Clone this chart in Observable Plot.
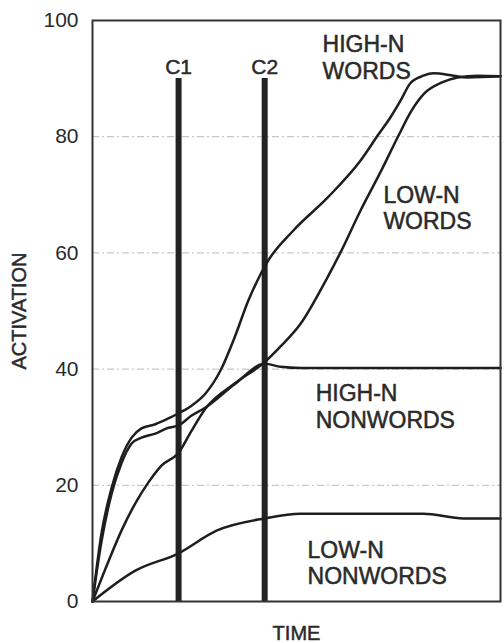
<!DOCTYPE html>
<html><head><meta charset="utf-8">
<script src="https://cdn.jsdelivr.net/npm/d3@7"></script>
<script src="https://cdn.jsdelivr.net/npm/@observablehq/plot@0.6"></script>
<style>body{margin:0;background:#fff;}</style>
</head><body><div id="chart"></div>
<script>
// ---- data ----
const yTicks = [0, 20, 40, 60, 80, 100];
const gridValues = [20, 40, 60, 80];
const cueNames = ["C1", "C2"];
const cueTimes = [21.1, 42.2];
const cueTop = [90, 90];

const hnWordsTime = [0, 2.2, 4.7, 7.1, 9.6, 12.0, 15.4, 18.6, 21.1, 24.3, 27.7, 31.4, 34.8, 38.2, 42.9, 49.3, 57.6, 65.7, 69.9, 73.0, 75.5, 77.9, 81.1, 83.6, 88.5, 91.9, 100];
const hnWordsAct  = [0, 11.7, 19.6, 24.8, 28.2, 29.8, 30.5, 31.5, 32.4, 33.7, 35.8, 39.8, 45.4, 51.8, 58.5, 63.9, 69.5, 75.9, 80.2, 83.3, 86.2, 89.2, 90.5, 90.9, 90.5, 90.2, 90.4];

const lnWordsTime = [0, 3.9, 7.1, 10.5, 13.7, 16.9, 21.1, 24.3, 27.7, 35.0, 42.2, 46.1, 51.0, 57.6, 60.8, 65.7, 70.8, 74.8, 78.2, 81.4, 85.5, 89.5, 94.4, 100];
const lnWordsAct  = [0, 6.9, 12.2, 16.9, 20.5, 23.4, 25.6, 29.4, 33.2, 37.6, 41.2, 43.9, 47.8, 55.8, 60.1, 67.3, 74.2, 79.9, 84.5, 87.5, 89.3, 90.2, 90.5, 90.4];

const hnNonwordsTime = [0, 2.2, 4.7, 7.1, 9.6, 12.0, 15.4, 18.6, 21.1, 24.3, 27.7, 35.0, 42.2, 46.1, 51.0, 100];
const hnNonwordsAct  = [0, 10.3, 18.6, 23.8, 27.2, 28.2, 28.9, 29.9, 30.3, 32.0, 33.4, 37.5, 40.9, 40.4, 40.2, 40.2];

const lnNonwordsTime = [0, 10.5, 21.1, 30.4, 42.2, 51.0, 81.1, 90.9, 100];
const lnNonwordsAct  = [0, 5.3, 8.3, 12.2, 14.3, 15.1, 15.1, 14.3, 14.3];

const seriesLabels = ["HIGH-N\nWORDS", "LOW-N\nWORDS", "HIGH-N\nNONWORDS", "LOW-N\nNONWORDS"];
const labelTime = [56.4, 71.3, 54.7, 52.7];
const labelAct  = [97.8, 71.9, 37.7, 10.8];

// ---- build tables ----
function rows(name, t, a) { return t.map((v, i) => ({series: name, t: v, a: a[i]})); }
const lineData = [
  ...rows("HIGH-N WORDS", hnWordsTime, hnWordsAct),
  ...rows("LOW-N WORDS", lnWordsTime, lnWordsAct),
  ...rows("HIGH-N NONWORDS", hnNonwordsTime, hnNonwordsAct),
  ...rows("LOW-N NONWORDS", lnNonwordsTime, lnNonwordsAct)
];
const cues = cueNames.map((n, i) => ({name: n, t: cueTimes[i], top: cueTop[i]}));
const labels = seriesLabels.map((s, i) => ({text: s, t: labelTime[i], a: labelAct[i]}));

const ink = "#2a2a2a";
const font = "'Liberation Sans', Arial, Helvetica, sans-serif";
const heavy = {fill: ink, stroke: ink, strokeWidth: 0.5};

const chart = Plot.plot({
  width: 504,
  height: 643,
  marginTop: 20,
  marginBottom: 42,
  marginLeft: 92,
  marginRight: 4,
  style: {fontFamily: font, color: ink, background: "#fff"},
  x: {domain: [0, 100], axis: null},
  y: {domain: [0, 100], axis: null},
  marks: [
    Plot.ruleY(gridValues, {stroke: "#bbb", strokeWidth: 1, strokeDasharray: "7,3,2,3"}),
    Plot.axisY({ticks: yTicks, tickSize: 0, tickPadding: 14, fontSize: 21, label: null, ...heavy}),
    Plot.ruleX(cues, {x: "t", y1: 0, y2: "top", stroke: "#222", strokeWidth: 6}),
    Plot.text(cues, {x: "t", y: "top", text: "name", dy: -11, fontSize: 21, ...heavy}),
    Plot.line(lineData, {x: "t", y: "a", z: "series", stroke: "#1e1e1e", strokeWidth: 2.5, curve: "monotone-x"}),
    Plot.text(labels, {x: "t", y: "a", text: "text", textAnchor: "start", lineAnchor: "top", lineHeight: 1.15, fontSize: 23, ...heavy}),
    Plot.frame({stroke: "#333", strokeWidth: 2}),
    Plot.text(["ACTIVATION"], {frameAnchor: "left", textAnchor: "middle", lineAnchor: "middle", rotate: -90, dx: -73, fontSize: 20, ...heavy}),
    Plot.text(["TIME"], {frameAnchor: "bottom", textAnchor: "middle", lineAnchor: "middle", dy: 32, fontSize: 20, ...heavy})
  ]
});
document.getElementById("chart").appendChild(chart);
</script>
</body></html>
